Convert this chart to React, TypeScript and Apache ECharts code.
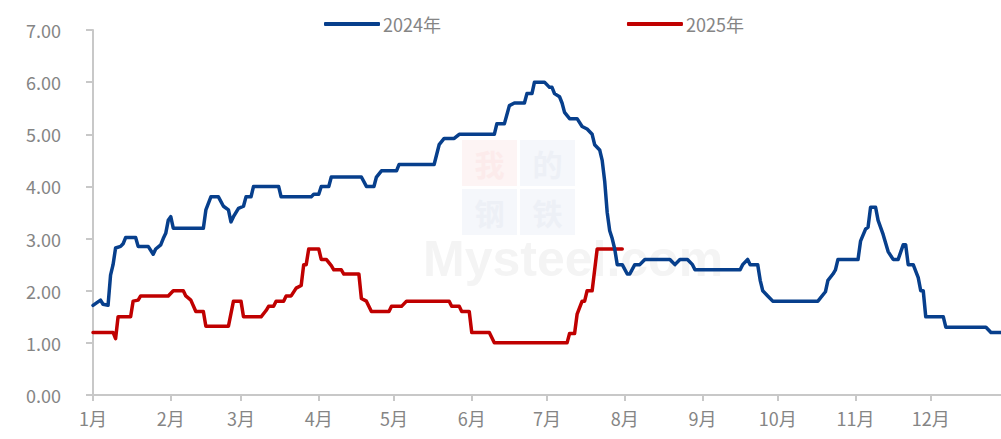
import React, { useEffect, useRef } from "react";
import * as echarts from "echarts";

const monthStarts = ["01-01", "02-01", "03-01", "04-01", "05-01", "06-01", "07-01", "08-01", "09-01", "10-01", "11-01", "12-01"];
const monthLabels = ["1月", "2月", "3月", "4月", "5月", "6月", "7月", "8月", "9月", "10月", "11月", "12月"];
const yTicks = [0, 1, 2, 3, 4, 5, 6, 7];

const dates2024 = [
  "01-01", "01-04", "01-05", "01-07", "01-08", "01-09", "01-10", "01-12", "01-13", "01-14",
  "01-18", "01-19", "01-23", "01-25", "01-26", "01-28", "01-29", "01-30", "01-31", "02-01",
  "02-02", "02-14", "02-15", "02-17", "02-20", "02-22", "02-24", "02-25", "02-26", "02-28",
  "03-02", "03-03", "03-05", "03-06", "03-16", "03-17", "03-29", "03-30", "04-01", "04-02",
  "04-05", "04-06", "04-18", "04-20", "04-23", "04-24", "04-26", "05-02", "05-03", "05-17",
  "05-19", "05-21", "05-25", "05-27", "06-10", "06-11", "06-14", "06-16", "06-18", "06-22",
  "06-23", "06-25", "06-26", "06-30", "07-02", "07-03", "07-04", "07-06", "07-07", "07-08",
  "07-10", "07-13", "07-15", "07-17", "07-19", "07-20", "07-22", "07-23", "07-24", "07-25",
  "07-26", "07-27", "07-28", "07-29", "07-31", "08-02", "08-03", "08-05", "08-07", "08-09",
  "08-19", "08-21", "08-23", "08-26", "08-28", "08-29", "09-16", "09-17", "09-19", "09-20",
  "09-23", "09-24", "09-25", "09-27", "09-29", "10-17", "10-20", "10-21", "10-23", "10-24",
  "10-25", "11-02", "11-03", "11-05", "11-06", "11-07", "11-09", "11-10", "11-12", "11-14",
  "11-16", "11-18", "11-20", "11-21", "11-22", "11-24", "11-26", "11-27", "11-28", "11-29",
  "12-06", "12-07", "12-23", "12-25", "12-29",
];
const values2024 = [
  1.72, 1.82, 1.74, 1.72, 2.3, 2.5, 2.82, 2.85, 2.9, 3.02,
  3.02, 2.85, 2.85, 2.7, 2.8, 2.88, 3.0, 3.1, 3.35, 3.42,
  3.2, 3.2, 3.55, 3.8, 3.8, 3.62, 3.55, 3.32, 3.42, 3.58,
  3.62, 3.8, 3.8, 4.0, 4.0, 3.8, 3.8, 3.85, 3.85, 4.0,
  4.0, 4.18, 4.18, 4.0, 4.0, 4.18, 4.3, 4.3, 4.42, 4.42,
  4.8, 4.92, 4.92, 5.0, 5.0, 5.2, 5.2, 5.55, 5.6, 5.6,
  5.78, 5.78, 6.0, 6.0, 5.9, 5.9, 5.78, 5.72, 5.6, 5.42,
  5.3, 5.3, 5.15, 5.1, 5.0, 4.8, 4.7, 4.5, 4.1, 3.5,
  3.15, 3.0, 2.8, 2.5, 2.5, 2.32, 2.32, 2.5, 2.5, 2.6,
  2.6, 2.5, 2.6, 2.6, 2.5, 2.4, 2.4, 2.5, 2.6, 2.5,
  2.5, 2.2, 2.0, 1.9, 1.8, 1.8, 1.98, 2.2, 2.32, 2.4,
  2.6, 2.6, 2.95, 3.18, 3.22, 3.6, 3.6, 3.35, 3.08, 2.75,
  2.6, 2.6, 2.88, 2.88, 2.5, 2.5, 2.25, 2.0, 2.0, 1.5,
  1.5, 1.3, 1.3, 1.2, 1.2,
];

const dates2025 = [
  "01-01", "01-09", "01-10", "01-11", "01-16", "01-17", "01-19", "01-20", "01-31", "02-02",
  "02-06", "02-07", "02-09", "02-11", "02-14", "02-15", "02-24", "02-26", "03-01", "03-02",
  "03-09", "03-11", "03-12", "03-14", "03-15", "03-18", "03-19", "03-21", "03-23", "03-25",
  "03-26", "03-27", "03-28", "04-01", "04-02", "04-04", "04-06", "04-07", "04-10", "04-11",
  "04-17", "04-18", "04-20", "04-22", "04-29", "04-30", "05-04", "05-06", "05-23", "05-24",
  "05-27", "05-28", "05-31", "06-01", "06-08", "06-10", "07-09", "07-10", "07-12", "07-13",
  "07-15", "07-16", "07-17", "07-19", "07-21", "07-31",
];
const values2025 = [
  1.2, 1.2, 1.08, 1.5, 1.5, 1.8, 1.82, 1.9, 1.9, 2.0,
  2.0, 1.9, 1.82, 1.6, 1.6, 1.32, 1.32, 1.8, 1.8, 1.5,
  1.5, 1.62, 1.7, 1.7, 1.8, 1.8, 1.9, 1.9, 2.05, 2.1,
  2.5, 2.5, 2.8, 2.8, 2.6, 2.6, 2.48, 2.4, 2.4, 2.32,
  2.32, 1.85, 1.8, 1.6, 1.6, 1.7, 1.7, 1.8, 1.8, 1.7,
  1.7, 1.6, 1.6, 1.2, 1.2, 1.0, 1.0, 1.18, 1.18, 1.55,
  1.8, 1.8, 2.0, 2.0, 2.8, 2.8,
];

const cumDays = [0, 31, 59, 90, 120, 151, 181, 212, 243, 273, 304, 334];
const dayIndex = (md: string) => {
  const [m, d] = md.split("-").map(Number);
  return cumDays[m - 1] + d - 1;
};

const FONT = "'Noto Sans CJK SC', 'Noto Sans', sans-serif";
const GRAY = "#858585";

export default function App() {
  const ref = useRef<HTMLDivElement>(null);
  useEffect(() => {
    if (!ref.current) return;
    const chart = echarts.init(ref.current, null, { renderer: "svg" });
    const tickDays = monthStarts.map(dayIndex);
    const s2024 = dates2024.map((d, i) => [dayIndex(d), values2024[i]]);
    const s2025 = dates2025.map((d, i) => [dayIndex(d), values2025[i]]);

    const wmText = (x: number, y: number, t: string, bg: string, fg: string) => ({
      type: "group",
      silent: true,
      children: [
        { type: "rect", shape: { x, y, width: 55, height: 46 }, style: { fill: bg } },
        {
          type: "text",
          x: x + 27.5,
          y: y + 23,
          style: { text: t, fill: fg, font: "bold 30px 'Noto Sans CJK SC'", align: "center", verticalAlign: "middle" },
        },
      ],
    });

    chart.setOption({
      animation: false,
      backgroundColor: "#ffffff",
      textStyle: { fontFamily: FONT },
      graphic: [
        {
          type: "text",
          x: 423,
          y: 259,
          silent: true,
          style: { text: "Mysteel.com", fill: "#f4f4f4", font: "bold 50px 'Liberation Sans', sans-serif", verticalAlign: "middle" },
        },
        wmText(462, 140, "我", "#fdf4f4", "#fcebeb"),
        wmText(520, 140, "的", "#f5f7fb", "#edf0f6"),
        wmText(462, 189, "钢", "#f5f7fb", "#edf0f6"),
        wmText(520, 189, "铁", "#f5f7fb", "#edf0f6"),
      ],
      legend: {
        top: 10,
        left: 319,
        icon: "roundRect",
        itemWidth: 56,
        itemHeight: 4,
        itemGap: 186,
        textStyle: { color: GRAY, fontSize: 18, fontFamily: FONT, padding: [0, 0, 0, -2] },
        data: ["2024年", "2025年"],
      },
      grid: { left: 93, right: 0, top: 30, bottom: 44 },
      xAxis: {
        type: "value",
        min: 0,
        max: 362,
        splitLine: { show: false },
        axisLine: { lineStyle: { color: "#c8c8c8", width: 2 } },
        axisTick: {
          show: true,
          length: 6,
          customValues: tickDays,
          lineStyle: { color: "#c8c8c8", width: 2 },
        },
        axisLabel: {
          customValues: tickDays,
          color: GRAY,
          fontSize: 18,
          margin: 14,
          fontFamily: FONT,
          formatter: (v: number) => monthLabels[tickDays.indexOf(Math.round(v))] ?? "",
        },
      },
      yAxis: {
        type: "value",
        min: yTicks[0],
        max: yTicks[yTicks.length - 1],
        interval: 1,
        splitLine: { show: false },
        axisLine: { show: true, lineStyle: { color: "#c8c8c8", width: 2 } },
        axisTick: { show: true, length: 7, lineStyle: { color: "#c8c8c8", width: 2 } },
        axisLabel: {
          color: GRAY,
          fontSize: 18,
          margin: 32,
          fontFamily: FONT,
          formatter: (v: number) => v.toFixed(2),
        },
      },
      series: [
        {
          name: "2024年",
          type: "line",
          data: s2024,
          symbol: "none",
          lineStyle: { color: "#073f8c", width: 3.5, join: "round", cap: "round" },
          itemStyle: { color: "#073f8c" },
          z: 3,
        },
        {
          name: "2025年",
          type: "line",
          data: s2025,
          symbol: "none",
          lineStyle: { color: "#c00000", width: 3.5, join: "round", cap: "round" },
          itemStyle: { color: "#c00000" },
          z: 2,
        },
      ],
    });
    return () => chart.dispose();
  }, []);

  return <div ref={ref} style={{ position: "fixed", left: 0, top: 0, width: 1001, height: 439 }} />;
}
